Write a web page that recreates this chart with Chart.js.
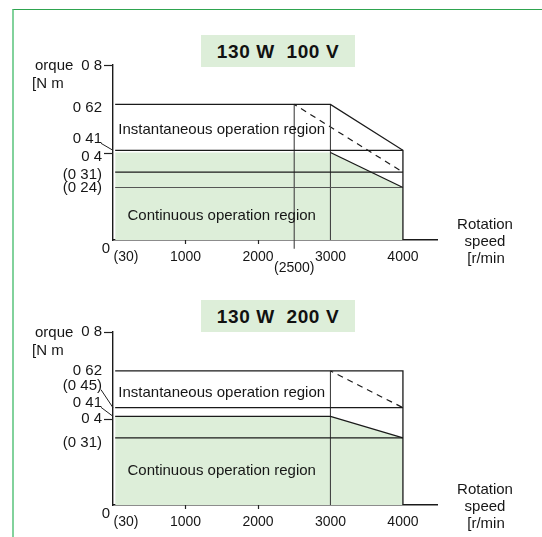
<!DOCTYPE html>
<html lang="en">
<head>
<meta charset="UTF-8">
<title>130 W torque characteristics</title>
<script src="https://cdn.jsdelivr.net/npm/chart.js"></script>
<style>
    body {
        margin: 0;
        width: 542px;
        height: 537px;
        background: #fff;
        position: relative;
        overflow: hidden;
        font-family: 'Liberation Sans', Arial, sans-serif;
    }
    .frame {
        position: absolute;
        left: 12px;
        top: 9px;
        right: 0;
        bottom: 0;
        border-left: 2px solid #82d29c;
        border-top: 1px solid #2ea44f;
    }
    .title {
        position: absolute;
        left: 201px;
        width: 154px;
        height: 32px;
        background: #ddeed9;
        color: #111;
        font-weight: bold;
        font-size: 19px;
        line-height: 33px;
        text-align: center;
        letter-spacing: 0.6px;
    }
    canvas {
        position: absolute;
        left: 0;
        top: 0;
    }
</style>
</head>
<body>
<div class="frame"></div>
<div class="title" style="top:35px">130 W&nbsp;&nbsp;100 V</div>
<div class="title" style="top:300px">130 W&nbsp;&nbsp;200 V</div>
<canvas id="chart100" width="542" height="537"></canvas>
<canvas id="chart200" width="542" height="537"></canvas>

<script>
// ---- data (speed in r/min, torque in N m) ----
const speedMax = 4470;
const speedTicks = [1000, 2000, 3000, 4000];

// 130 W 100 V
const inst100 = [{x: 30, y: 0.62}, {x: 3000, y: 0.62}, {x: 4000, y: 0.41}, {x: 4000, y: 0}];
const cont100 = [{x: 30, y: 0.4}, {x: 3000, y: 0.4}, {x: 4000, y: 0.24}];
const level41_100 = [{x: 30, y: 0.41}, {x: 4000, y: 0.41}];
const level31_100 = [{x: 30, y: 0.31}, {x: 4000, y: 0.31}];
const level24_100 = [{x: 30, y: 0.24}, {x: 4000, y: 0.24}];
const at2500_100 = [{x: 2500, y: 0.62}, {x: 2500, y: -0.04}];
const at3000_100 = [{x: 3000, y: 0.62}, {x: 3000, y: 0}];
const dashed100 = [{x: 2500, y: 0.62}, {x: 4000, y: 0.31}];
const yText100 = ['0 8', '0 62', '0 41', '0 4', '(0 31)', '(0 24)'];
const yValue100 = [0.8, 0.62, 0.41, 0.4, 0.31, 0.24];

// 130 W 200 V
const inst200 = [{x: 30, y: 0.62}, {x: 4000, y: 0.62}, {x: 4000, y: 0}];
const cont200 = [{x: 30, y: 0.41}, {x: 3000, y: 0.41}, {x: 4000, y: 0.31}];
const level45_200 = [{x: 30, y: 0.45}, {x: 4000, y: 0.45}];
const level31_200 = [{x: 30, y: 0.31}, {x: 4000, y: 0.31}];
const at3000_200 = [{x: 3000, y: 0.62}, {x: 3000, y: 0}];
const dashed200 = [{x: 3000, y: 0.62}, {x: 4000, y: 0.45}];
const yText200 = ['0 8', '0 62', '(0 45)', '0 41', '0 4', '(0 31)'];
const yValue200 = [0.8, 0.62, 0.45, 0.41, 0.4, 0.31];

// ---- layout tweaks (pixels) ----
const yNudge100 = [1, 3, -11, 4, 3, 0];
const yNudge200 = [0, 0, -22, -13, 0.5, 5];
const FONT = "'Liberation Sans', Arial, sans-serif";
const GREEN = '#ddeed9';

function line(data, extra) {
    return Object.assign({
        data: data,
        borderColor: '#1a1a1a',
        borderWidth: 1.3,
        pointRadius: 0,
        fill: false
    }, extra || {});
}

function textPlugin(o) {
    return {
        id: 'texts' + o.key,
        afterDraw(chart) {
            const ctx = chart.ctx;
            const xs = chart.scales.x, ys = chart.scales.y;
            const x0 = xs.getPixelForValue(0), y0 = ys.getPixelForValue(0);
            ctx.save();
            ctx.fillStyle = '#161616';
            ctx.strokeStyle = '#222';
            ctx.lineWidth = 1;
            ctx.textBaseline = 'middle';

            // torque labels
            ctx.font = '15px ' + FONT;
            ctx.textAlign = 'right';
            o.yText.forEach((t, i) => {
                ctx.fillText(t, x0 - 11, ys.getPixelForValue(o.yValue[i]) + o.yNudge[i]);
            });
            ctx.textAlign = 'left';
            const top = ys.getPixelForValue(0.8);
            ctx.fillText('orque', 35, top + 0.5);
            ctx.fillText('[N m', 32, top + 19);

            // leader lines from labels to the axis
            o.leaders.forEach(i => {
                const ly = ys.getPixelForValue(o.yValue[i]) + o.yNudge[i];
                ctx.beginPath();
                ctx.moveTo(x0 - 12, ly + 4);
                ctx.lineTo(x0, ys.getPixelForValue(o.yValue[i]));
                ctx.stroke();
            });

            // small tick marks
            ctx.lineWidth = 1.2;
            [0.8, 0.4].forEach(v => {
                const y = Math.round(ys.getPixelForValue(v)) + 0.5;
                ctx.beginPath();
                ctx.moveTo(x0 - 9, y);
                ctx.lineTo(x0, y);
                ctx.stroke();
            });
            [1000, 2000].forEach(v => {
                const x = Math.round(xs.getPixelForValue(v)) + 0.5;
                ctx.beginPath();
                ctx.moveTo(x, y0);
                ctx.lineTo(x, y0 + 4);
                ctx.stroke();
            });

            // speed labels
            ctx.font = '14px ' + FONT;
            ctx.textAlign = 'center';
            speedTicks.forEach(v => ctx.fillText(String(v), xs.getPixelForValue(v), y0 + 17));
            ctx.textAlign = 'left';
            ctx.fillText('(30)', x0 + 0.5, y0 + 17);
            ctx.font = '15px ' + FONT;
            ctx.textAlign = 'right';
            ctx.fillText('0', x0 - 3, y0 + 9);
            ctx.font = '14px ' + FONT;
            ctx.textAlign = 'center';
            if (o.extraSpeed) {
                ctx.fillText('(' + o.extraSpeed + ')', xs.getPixelForValue(o.extraSpeed), y0 + 28);
            }

            // axis title
            ctx.font = '15px ' + FONT;
            const ax = xs.right + 48;
            ctx.fillText('Rotation', ax, y0 - 15);
            ctx.fillText('speed', ax, y0 + 1.5);
            ctx.fillText('[r/min', ax + 1, y0 + 18.5);

            // region names
            ctx.fillText('Instantaneous operation region', xs.getPixelForValue(1500), ys.getPixelForValue(o.instY));
            ctx.fillText('Continuous operation region', xs.getPixelForValue(1500), ys.getPixelForValue(o.contY));
            ctx.restore();
        }
    };
}

function makeChart(id, datasets, padTop, padBottom, opts) {
    return new Chart(document.getElementById(id), {
        type: 'line',
        data: {datasets: datasets},
        options: {
            responsive: false,
            animation: false,
            parsing: false,
            layout: {padding: {left: 113, right: 542 - 437, top: padTop, bottom: padBottom}},
            scales: {
                x: {
                    type: 'linear', min: 0, max: speedMax,
                    grid: {display: false},
                    ticks: {display: false},
                    border: {display: true, color: '#1a1a1a', width: 1.4},
                    afterFit: s => { s.height = 0; }
                },
                y: {
                    type: 'linear', min: 0, max: 0.8,
                    grid: {display: false},
                    ticks: {display: false},
                    border: {display: true, color: '#1a1a1a', width: 1.4},
                    afterFit: s => { s.width = 0; }
                }
            },
            plugins: {legend: {display: false}, tooltip: {enabled: false}}
        },
        plugins: [textPlugin(opts)]
    });
}

makeChart('chart100', [
    line(cont100, {fill: 'origin', backgroundColor: GREEN, borderWidth: 0, order: 10}),
    line(inst100),
    line(level41_100),
    line(level31_100),
    line(level24_100, {borderColor: '#555', borderWidth: 1.2}),
    line([cont100[1], cont100[2]]),
    line(at2500_100, {borderColor: '#444', borderWidth: 1.1, clip: false}),
    line(at3000_100, {borderColor: '#444', borderWidth: 1.1}),
    line(dashed100, {borderDash: [6, 5], borderDashOffset: 3, borderWidth: 1.2})
], 65, 537 - 240, {
    key: '100', yText: yText100, yValue: yValue100, yNudge: yNudge100,
    leaders: [2], extraSpeed: 2500, instY: 0.503, contY: 0.11
});

makeChart('chart200', [
    line(cont200, {fill: 'origin', backgroundColor: GREEN, borderWidth: 0, order: 10}),
    line(inst200),
    line(level45_200),
    line(level31_200),
    line(cont200),
    line(at3000_200, {borderColor: '#444', borderWidth: 1.1}),
    line(dashed200, {borderDash: [6, 5], borderDashOffset: 3, borderWidth: 1.2})
], 332, 537 - 505, {
    key: '200', yText: yText200, yValue: yValue200, yNudge: yNudge200,
    leaders: [2, 3], extraSpeed: null, instY: 0.52, contY: 0.16
});
</script>
</body>
</html>
